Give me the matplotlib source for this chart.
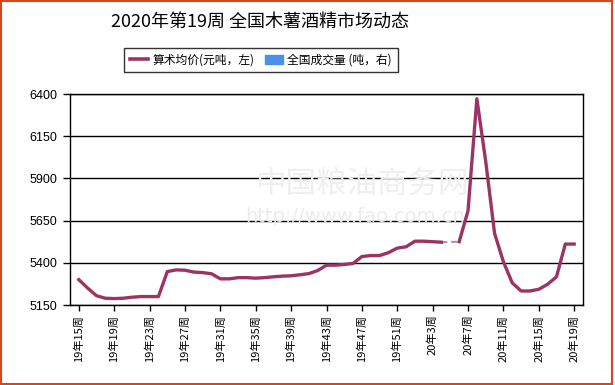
import matplotlib
matplotlib.use("Agg")
import matplotlib.pyplot as plt
import numpy as np
from matplotlib.lines import Line2D
from matplotlib.patches import Patch, Rectangle

plt.rcParams['font.family'] = ['Noto Sans CJK SC', 'DejaVu Sans']

# categories: weeks 19年15周 .. 20年19周
weeks_2019 = list(range(15, 53))
weeks_2020 = list(range(1, 20))
categories = [f"19年{w}周" for w in weeks_2019] + [f"20年{w}周" for w in weeks_2020]

# 算术均价 (元/吨)
price = [5300, 5250, 5205, 5190, 5188, 5190, 5196, 5200, 5200, 5200,
         5348, 5358, 5356, 5345, 5342, 5335, 5305, 5305, 5312, 5312,
         5309, 5312, 5317, 5321, 5323, 5329, 5336, 5354, 5386, 5386,
         5390, 5396, 5437, 5443, 5443, 5460, 5487, 5495, 5528, 5528,
         5525, 5522, np.nan, 5525, 5708, 6372, 6001, 5575, 5406, 5281,
         5233, 5233, 5243, 5273, 5317, 5511, 5511]

tick_labels = ["19年15周", "19年19周", "19年23周", "19年27周", "19年31周",
               "19年35周", "19年39周", "19年43周", "19年47周", "19年51周",
               "20年3周", "20年7周", "20年11周", "20年15周", "20年19周"]
y_ticks = [5150, 5400, 5650, 5900, 6150, 6400]

line_color = "#9B3465"
blue = "#4A90E8"

fig = plt.figure(figsize=(6.15, 3.85), dpi=100)
ax = fig.add_axes([70/615, 1-305/385, (583-70)/615, (305-94)/385])

x = np.arange(len(categories))
y = np.array(price, dtype=float)
ax.plot(x, y, color=line_color, lw=2.4, solid_joinstyle='round', zorder=3)

# gray dashed connector across the missing week
nan_idx = [i for i, v in enumerate(price) if np.isnan(v)]
for i in nan_idx:
    ax.plot([i-1, i+1], [price[i-1], price[i+1]], color="#999999", lw=1.4,
            ls=(0, (3, 2)), zorder=2)

ax.set_xlim(-1, len(categories))
ax.set_ylim(y_ticks[0], y_ticks[-1])
ax.set_yticks(y_ticks)
ax.set_yticklabels([str(v) for v in y_ticks], fontsize=9, family=['Liberation Sans', 'DejaVu Sans'])
pos = [categories.index(t) for t in tick_labels]
ax.set_xticks(pos)
ax.set_xticklabels(tick_labels, rotation=90, fontsize=8)
ax.tick_params(axis='x', direction='out', length=4, width=1, color='black', pad=3)
ax.tick_params(axis='y', direction='out', length=5, width=1, color='black', pad=4)
ax.grid(axis='y', color='black', lw=1)
ax.set_axisbelow(True)
for s in ax.spines.values():
    s.set_color('black')
    s.set_linewidth(1)

# watermark
fig.text(362/615, 1-184/385, "中国粮油商务网", fontsize=22, color="#efefef",
         ha='center', va='center', zorder=0)
fig.text(355/615, 1-216/385, "http://www.fao.com.cn", fontsize=14, color="#ececec",
         ha='center', va='center', family=['DejaVu Sans'], zorder=0)

fig.text(260/615, 1-22/385, "2020年第19周 全国木薯酒精市场动态", fontsize=13,
         ha='center', va='center', color='black')

handles = [Line2D([0], [0], color=line_color, lw=2.6),
           Patch(facecolor=blue, edgecolor=blue)]
leg = fig.legend(handles, ["算术均价(元吨，左)", "全国成交量 (吨，右)"],
                 loc='center', bbox_to_anchor=(261/615, 1-60/385), ncol=2,
                 fontsize=8.5, frameon=True, fancybox=False, edgecolor='black',
                 handlelength=1.5, handleheight=0.8, columnspacing=0.9,
                 borderpad=0.5, borderaxespad=0, handletextpad=0.4)
leg.get_frame().set_linewidth(1)

fig.patches.append(Rectangle((0.001, 0.003), 0.994, 0.995, transform=fig.transFigure,
                             fill=False, edgecolor="#D9461A", lw=1.5))

fig.savefig("out.png", dpi=100)
